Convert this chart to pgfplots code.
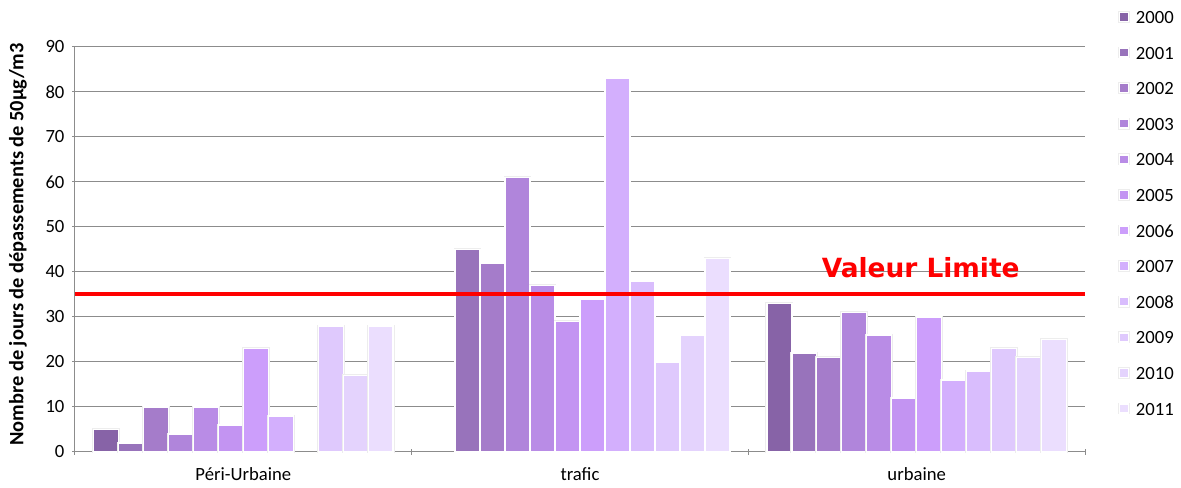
\documentclass[border=0pt]{standalone}
\usepackage{pgfplots}
\pgfplotsset{compat=1.18}
\usepackage{fontspec}
\setmainfont{Carlito}
\newfontfamily\limitfont{DejaVu Sans}

% one purple shade per year, dark to light
\definecolor{y2000}{RGB}{135,99,167}
\definecolor{y2001}{RGB}{152,115,187}
\definecolor{y2002}{RGB}{165,124,202}
\definecolor{y2003}{RGB}{176,133,219}
\definecolor{y2004}{RGB}{185,140,230}
\definecolor{y2005}{RGB}{195,148,242}
\definecolor{y2006}{RGB}{204,158,251}
\definecolor{y2007}{RGB}{211,175,253}
\definecolor{y2008}{RGB}{217,189,253}
\definecolor{y2009}{RGB}{223,201,253}
\definecolor{y2010}{RGB}{228,211,253}
\definecolor{y2011}{RGB}{235,222,254}
\definecolor{gridgray}{RGB}{140,140,140}

\pgfplotsset{
  yearbar/.style 2 args={
    ybar, bar width=0.0742, bar shift=#2,
    fill=#1, draw=white, line width=1.1pt,
    preaction={draw=black!7, line width=2pt},
    legend image code/.code={\path[fill=#1] (0pt,-3.375pt) rectangle (6.75pt,3.375pt);}
  }
}

\begin{document}
\begin{tikzpicture}
\path[use as bounding box] (-56.25pt,-27pt) rectangle (829.5pt,339pt);
\begin{axis}[
  at={(0,0)}, anchor=south west,
  scale only axis, width=757.5pt, height=304pt,
  xmin=-0.5, xmax=2.5, ymin=0, ymax=90,
  ytick={0,10,...,90},
  xtick={0,1,2},
  xticklabels={Péri-Urbaine, trafic, urbaine},
  minor xtick={-0.5,0.5,1.5,2.5},
  major x tick style={draw=none},
  tick align=outside,
  major tick length=3.75pt, minor tick length=4.5pt,
  tick style={gridgray, line width=0.75pt},
  ymajorgrids, major grid style={gridgray, line width=0.75pt},
  separate axis lines,
  axis x line=bottom, axis y line=left,
  x axis line style={-, gridgray, line width=0.75pt},
  y axis line style={-, gridgray, line width=0.75pt},
  /pgf/number format/assume math mode=true,
  ticklabel style={font=\fontsize{14}{16}\selectfont, black},
  yticklabel style={xshift=-2.5pt},
  xticklabel style={yshift=-6pt},
  ylabel={\bfseries Nombre de jours de dépassements de 50µg/m3},
  ylabel style={at={(axis description cs:-0.0564,0.512)}, anchor=center,
    font=\fontsize{15.3}{17}\selectfont},
  legend cell align=left,
  legend style={at={(rel axis cs:1.0327,1.0905)}, anchor=north west,
    draw=none, fill=none, inner sep=0pt, row sep=16.7pt, column sep=4.5pt,
    font=\fontsize{14}{16}\selectfont,
    nodes={inner sep=0pt, text height=10pt, text depth=0pt}},
  clip=false,
]
% 2000: no value at the trafic sites
\addplot[yearbar={y2000}{-0.4081}] coordinates {(0,5) (2,33)};
\addlegendentry{2000}
\addplot[yearbar={y2001}{-0.3339}] coordinates {(0,2) (1,45) (2,22)};
\addlegendentry{2001}
\addplot[yearbar={y2002}{-0.2597}] coordinates {(0,10) (1,42) (2,21)};
\addlegendentry{2002}
\addplot[yearbar={y2003}{-0.1855}] coordinates {(0,4) (1,61) (2,31)};
\addlegendentry{2003}
\addplot[yearbar={y2004}{-0.1113}] coordinates {(0,10) (1,37) (2,26)};
\addlegendentry{2004}
\addplot[yearbar={y2005}{-0.0371}] coordinates {(0,6) (1,29) (2,12)};
\addlegendentry{2005}
\addplot[yearbar={y2006}{0.0371}] coordinates {(0,23) (1,34) (2,30)};
\addlegendentry{2006}
\addplot[yearbar={y2007}{0.1113}] coordinates {(0,8) (1,83) (2,16)};
\addlegendentry{2007}
% 2008: no value at the peri-urban sites
\addplot[yearbar={y2008}{0.1855}] coordinates {(1,38) (2,18)};
\addlegendentry{2008}
\addplot[yearbar={y2009}{0.2597}] coordinates {(0,28) (1,20) (2,23)};
\addlegendentry{2009}
\addplot[yearbar={y2010}{0.3339}] coordinates {(0,17) (1,26) (2,21)};
\addlegendentry{2010}
\addplot[yearbar={y2011}{0.4081}] coordinates {(0,28) (1,43) (2,25)};
\addlegendentry{2011}
% limit value: 35 days
\addplot[sharp plot, red, line width=3pt, forget plot] coordinates {(-0.5,35) (2.5,35)};
\node[text=red, font=\limitfont\bfseries\fontsize{19.8}{22}\selectfont]
  at (axis cs:2.012,40.9) {Valeur Limite};
\end{axis}
\end{tikzpicture}
\end{document}
